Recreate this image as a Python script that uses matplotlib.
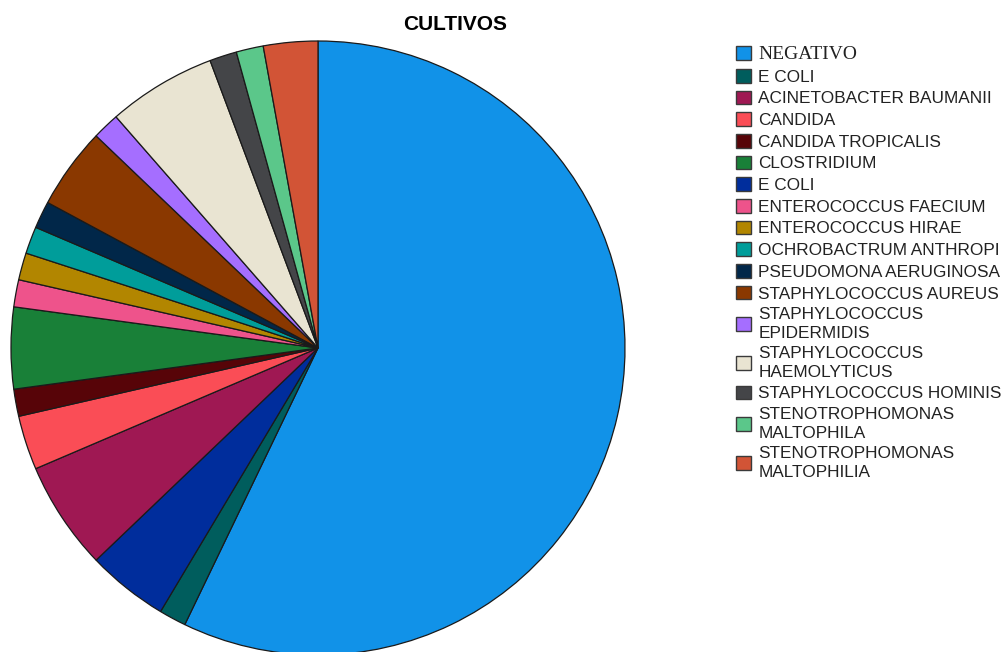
""" pie chart of the cultures """

import matplotlib
matplotlib.use("Agg")
import matplotlib.pyplot
from matplotlib.patches import Patch

OUTPUT = "out.png"

# categories as listed in the legend
labels = [
    "NEGATIVO",
    "E COLI",
    "ACINETOBACTER BAUMANII",
    "CANDIDA",
    "CANDIDA TROPICALIS",
    "CLOSTRIDIUM",
    "E COLI",
    "ENTEROCOCCUS FAECIUM",
    "ENTEROCOCCUS HIRAE",
    "OCHROBACTRUM ANTHROPI",
    "PSEUDOMONA AERUGINOSA",
    "STAPHYLOCOCCUS AUREUS",
    "STAPHYLOCOCCUS\nEPIDERMIDIS",
    "STAPHYLOCOCCUS\nHAEMOLYTICUS",
    "STAPHYLOCOCCUS HOMINIS",
    "STENOTROPHOMONAS\nMALTOPHILA",
    "STENOTROPHOMONAS\nMALTOPHILIA",
]
counts = [40, 1, 4, 2, 1, 3, 3, 1, 1, 1, 1, 3, 1, 4, 1, 1, 2]
colors = [
    "#1192e8", "#005d5d", "#9f1853", "#fa4d56", "#570408", "#198038",
    "#002d9c", "#ee538b", "#b28600", "#009d9a", "#012749", "#8a3800",
    "#a56eff", "#e9e4d2", "#444548", "#5bc78a", "#d25436",
]
# order in which the wedges go round the pie
pie_order = [0, 1, 6, 2, 3, 4, 5, 7, 8, 9, 10, 11, 12, 13, 14, 15, 16]

W, H = 1008, 652

def plot_cultivos():
    fig = matplotlib.pyplot.figure(figsize=(W / 100, H / 100), dpi=100)
    ax = fig.add_axes([0, 0, 1, 1])

    ax.pie([counts[i] for i in pie_order],
        colors=[colors[i] for i in pie_order],
        startangle=90, counterclock=False,
        center=(318, H - 348), radius=307,
        wedgeprops=dict(edgecolor="#1a1a1a", linewidth=0.9))

    ax.set_xlim(0, W)
    ax.set_ylim(0, H)
    ax.set_aspect("equal")
    ax.axis("off")

    ax.text(455, H - 24, "CULTIVOS", ha="center", va="center",
        fontsize=15, fontweight="bold", family="Liberation Sans")

    handles = [Patch(facecolor=c, edgecolor="#3a3a3a", linewidth=1.0) for c in colors]
    leg = fig.legend(handles, labels,
        loc="upper left",
        bbox_to_anchor=(736 / W, 1 - 46 / H),
        frameon=False,
        borderpad=0, borderaxespad=0,
        handlelength=0.85, handleheight=0.85,
        handletextpad=0.45,
        labelspacing=0.34,
        prop=dict(family="Liberation Sans", size=12.4))
    for t in leg.get_texts():
        t.set_linespacing(1.27)
        t.set_color("#222222")
    leg.get_texts()[0].set_family("Liberation Serif")
    leg.get_texts()[0].set_size(14)

    matplotlib.pyplot.savefig(OUTPUT, dpi=100)
    matplotlib.pyplot.close()

if __name__ == "__main__":
    plot_cultivos()
